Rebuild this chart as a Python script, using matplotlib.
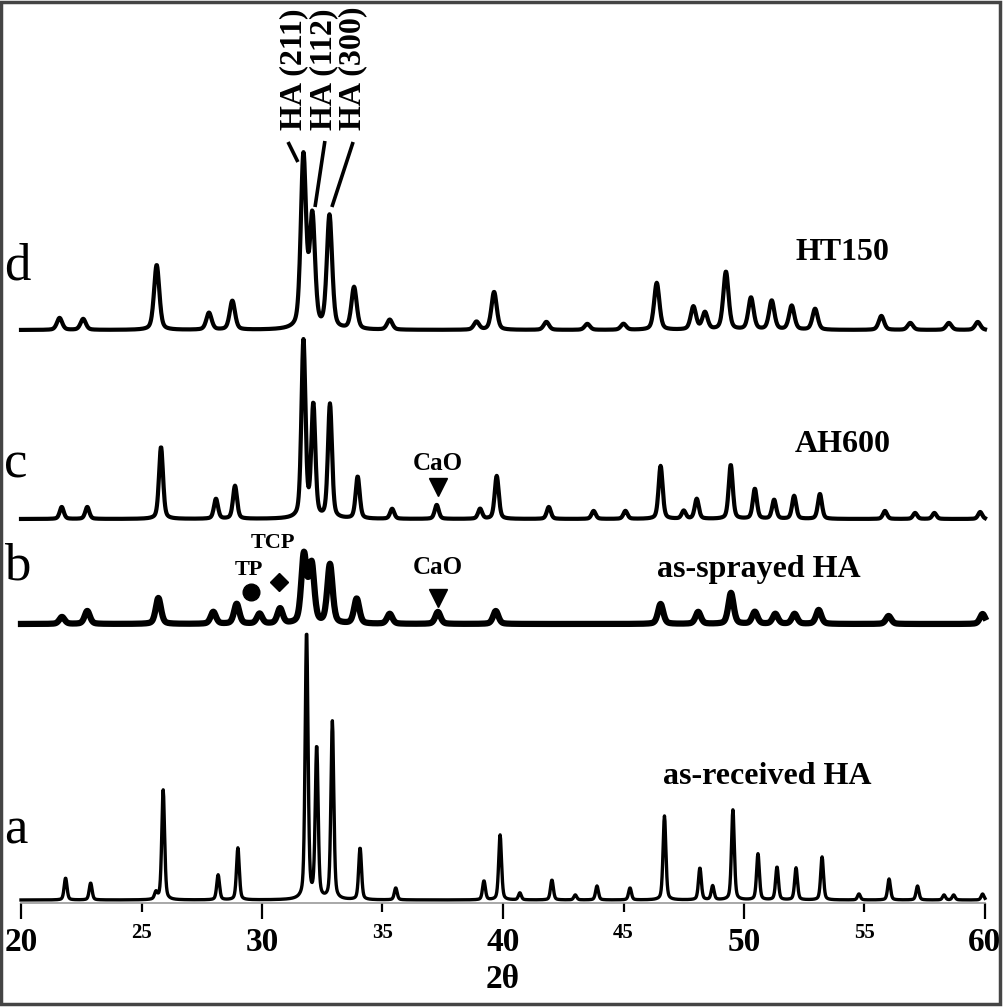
import numpy as np
import matplotlib
matplotlib.use("Agg")
import matplotlib.pyplot as plt
from matplotlib.patches import Rectangle

plt.rcParams['font.family'] = ['Liberation Serif', 'DejaVu Serif']

# ---------------- data (peak positions in 2theta, heights in plot units) -------------
pos_a = [21.85, 22.89, 25.6, 25.9, 28.18, 29.0, 31.85, 32.27, 32.92, 34.07, 35.55, 39.21,
         39.88, 40.7, 42.03, 43.0, 43.9, 45.27, 46.7, 48.17, 48.7, 49.54, 50.58, 51.37,
         52.16, 53.24, 54.77, 56.02, 57.2, 58.3, 58.7, 59.9]
h_a = [22, 17, 7, 110, 25, 52, 268, 152, 178, 52, 12, 19,
       65, 7, 20, 5, 14, 12, 84, 32, 14, 90, 46, 33,
       32, 43, 6, 21, 14, 5, 5, 6]

pos_b = [21.7, 22.75, 25.7, 27.98, 28.95, 29.9, 30.75, 31.74, 32.06, 32.82, 33.93, 35.3,
         37.3, 39.7, 46.54, 48.1, 49.46, 50.45, 51.3, 52.1, 53.1, 56.0, 59.9]
h_b = [7, 13, 26, 12, 20, 10, 15, 68, 58, 59, 25, 10,
       12, 13, 20, 12, 31, 12, 10, 10, 14, 8, 10]

pos_c = [21.69, 22.75, 25.81, 28.09, 28.88, 31.72, 32.13, 32.82, 33.97, 35.4, 37.25, 39.05,
         39.74, 41.9, 43.76, 45.08, 46.54, 47.5, 48.04, 49.45, 50.45, 51.25, 52.08, 53.15,
         55.85, 57.1, 57.9, 59.8]
h_c = [12, 12, 72, 20, 33, 177, 112, 114, 42, 10, 14, 10,
       43, 12, 8, 8, 53, 8, 20, 54, 30, 19, 23, 25,
       8, 6, 6, 7]

pos_d = [21.6, 22.58, 25.63, 27.8, 28.77, 31.72, 32.09, 32.8, 33.82, 35.3, 38.9, 39.63,
         41.8, 43.5, 45.0, 46.38, 47.9, 48.38, 49.25, 50.29, 51.15, 51.98, 52.95, 55.7,
         56.9, 58.5, 59.7]
h_d = [12, 11, 65, 17, 29, 172, 110, 113, 42, 10, 8, 38,
       8, 6, 6, 47, 23, 17, 58, 32, 29, 24, 21, 14,
       7, 7, 8]

series_names = ["as-received HA", "as-sprayed HA", "AH600", "HT150"]
series_letters = ["a", "b", "c", "d"]
major_ticks = [20, 30, 40, 50, 60]
minor_ticks = [25, 35, 45, 55]

# ---------------- figure ------------------------------------------------------------
W, H = 1004, 1007
fig = plt.figure(figsize=(W / 100, H / 100), dpi=100)
ax = fig.add_axes([21 / W, 104 / H, 964 / W, 903 / H])
ax.set_xlim(20, 60)
ax.set_ylim(0, 903)

theta = np.linspace(20, 60, 2001)


def profile(pos, h, fwhm, eta=0.4):
    y = np.zeros_like(theta)
    for p, a in zip(pos, h):
        d = (theta - p) / (fwhm / 2)
        y += a * ((1 - eta) * np.exp(-np.log(2) * d ** 2) + eta / (1 + d ** 2))
    return y


offsets = [3, 279, 384, 573]
widths = [0.14, 0.26, 0.2, 0.26]
lws = [2.4, 4.5, 3.0, 3.0]
all_pos = [pos_a, pos_b, pos_c, pos_d]
all_h = [h_a, h_b, h_c, h_d]
for off, w, lw, p, h in zip(offsets, widths, lws, all_pos, all_h):
    ax.plot(theta, off + profile(p, h, w), color='black', lw=lw, clip_on=False,
            solid_joinstyle='round')

# ---------------- axes styling ------------------------------------------------------
for s in ['left', 'top', 'right']:
    ax.spines[s].set_visible(False)
ax.spines['bottom'].set_color('#999999')
ax.spines['bottom'].set_linewidth(1.2)
ax.set_yticks([])
ax.set_xticks(major_ticks)
ax.set_xticklabels([str(t) for t in major_ticks])
ax.set_xticks(minor_ticks, minor=True)
ax.set_xticklabels([str(t) for t in minor_ticks], minor=True)
ax.tick_params(axis='x', which='major', length=11.5, width=1.6, pad=6, labelsize=24,
               color='black')
ax.tick_params(axis='x', which='minor', length=6.5, width=1.6, pad=8, labelsize=15,
               color='black')
for lab in ax.get_xticklabels(which='both'):
    lab.set_fontweight('bold')
ax.set_xlabel('2θ', fontsize=24, fontweight='bold', labelpad=4)
ax.patch.set_alpha(0)

# ---------------- annotations -------------------------------------------------------
bold = dict(fontweight='bold', color='black')
label_xy = [(50.95, 126), (50.62, 334), (54.1, 458), (54.07, 650)]
for (x, y), name in zip(label_xy, series_names):
    ax.text(x, y, name, fontsize=23, ha='center', va='center', **bold)

letter_y = [60, 323, 425, 623]
for y, L in zip(letter_y, series_letters):
    ax.text(19.29, y, L, fontsize=38, ha='left', va='baseline', clip_on=False)

# HA reflections
for x, t in [(31.3, '(211)'), (32.55, '(112)'), (33.75, '(300)')]:
    ax.text(x, 773, 'HA ' + t, rotation=90, fontsize=23, ha='center', va='bottom', **bold)
for (x0, y0), (x1, y1) in [((31.08, 761), (31.49, 741)),
                           ((32.61, 762), (32.2, 696)),
                           ((33.78, 761), (32.9, 696))]:
    ax.plot([x0, x1], [y0, y1], color='black', lw=2.6, solid_capstyle='butt')

# phase markers
ax.text(37.3, 440, 'CaO', fontsize=18, ha='center', va='center', **bold)
ax.plot([37.3], [416], marker='v', color='black', markersize=13, ls='none')
ax.text(37.3, 335, 'CaO', fontsize=18, ha='center', va='center', **bold)
ax.plot([37.3], [305], marker='v', color='black', markersize=13, ls='none')
ax.text(29.45, 333, 'TP', fontsize=16, ha='center', va='center', **bold)
ax.plot([29.53], [311], marker='o', color='black', markersize=12, ls='none')
ax.text(30.45, 360, 'TCP', fontsize=16, ha='center', va='center', **bold)
ax.plot([30.7], [321], marker='D', color='black', markersize=9, ls='none')

# outer frame
fig.patches.append(Rectangle((1 / W, 3 / H), 999 / W, 1002 / H, transform=fig.transFigure,
                             fill=False, edgecolor='#444444', lw=2.5))

fig.savefig('out.png', dpi=100)
